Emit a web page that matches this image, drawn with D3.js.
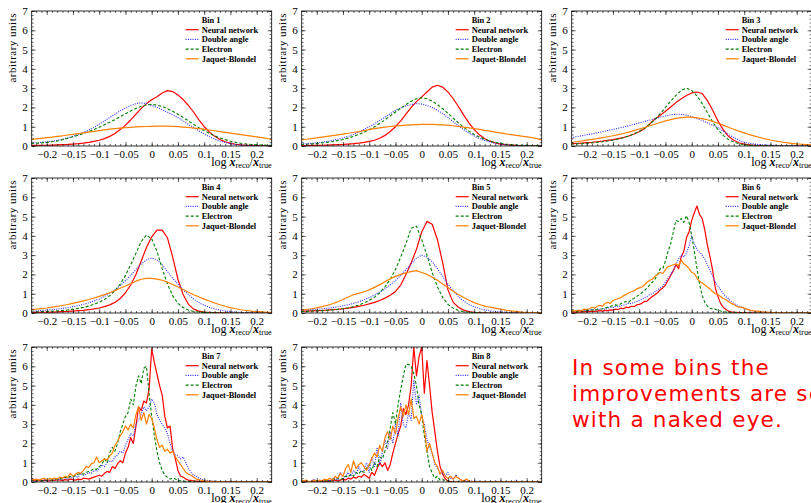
<!DOCTYPE html>
<html>
<head>
<meta charset="utf-8">
<script src="https://cdn.jsdelivr.net/npm/d3@7"></script>
<style>
  body { margin: 0; background: #fff; }
  svg { display: block; }
</style>
</head>
<body>
<div id="graphic"></div>
<script>
// bin centres of the histograms (coarse for bins 1-5, fine for the noisy bins 6-8)
var xCoarse = [-0.23,-0.22,-0.21,-0.20,-0.19,-0.18,-0.17,-0.16,-0.15,-0.14,-0.13,-0.12,-0.11,-0.10,-0.09,-0.08,-0.07,-0.06,-0.05,-0.04,-0.03,-0.02,-0.01,
  0,0.01,0.02,0.03,0.04,0.05,0.06,0.07,0.08,0.09,0.10,0.11,0.12,0.13,0.14,0.15,0.16,0.17,0.18,0.19,0.20,0.21,0.22,0.23];
var xFine = [-0.230,-0.225,-0.220,-0.215,-0.210,-0.205,-0.200,-0.195,-0.190,-0.185,
  -0.180,-0.175,-0.170,-0.165,-0.160,-0.155,-0.150,-0.145,-0.140,-0.135,
  -0.130,-0.125,-0.120,-0.115,-0.110,-0.105,-0.100,-0.095,-0.090,-0.085,
  -0.080,-0.075,-0.070,-0.065,-0.060,-0.055,-0.050,-0.045,-0.040,-0.035,
  -0.030,-0.025,-0.020,-0.015,-0.010,-0.005,0,0.005,0.010,0.015,
  0.020,0.025,0.030,0.035,0.040,0.045,0.050,0.055,0.060,0.065,
  0.070,0.075,0.080,0.085,0.090,0.095,0.100,0.105,0.110,0.115,
  0.120,0.125,0.130,0.135,0.140,0.145,0.150,0.155,0.160,0.165,
  0.170,0.175,0.180,0.185,0.190,0.195,0.200,0.205,0.210,0.215,
  0.220,0.225,0.230];

var binNames = ["Bin 1", "Bin 2", "Bin 3", "Bin 4", "Bin 5", "Bin 6", "Bin 7", "Bin 8"];
var seriesNames = ["Neural network", "Double angle", "Electron", "Jaquet-Blondel"];

var xTickValues = [-0.2, -0.15, -0.1, -0.05, 0, 0.05, 0.1, 0.15, 0.2];
var xTickLabels = ["\u22120.2", "\u22120.15", "\u22120.1", "\u22120.05", "0", "0.05", "0.1", "0.15", "0.2"];
var yTickValues = [0, 1, 2, 3, 4, 5, 6, 7];
var yTickLabels = ["0", "1", "2", "3", "4", "5", "6", "7"];

// Bin 1
var nn1 = [0.03,0.03,0.04,0.04,0.05,0.06,0.07,0.08,0.1,0.12,0.15,0.19,0.24,0.3,0.38,0.5,0.65,0.85,1.08,1.35,1.65,1.95,2.2,
  2.4,2.55,2.75,2.87,2.82,2.65,2.4,2.1,1.75,1.35,1.0,0.72,0.5,0.34,0.22,0.14,0.09,0.06,0.04,0.03,0.02,0.02,0.01,0.01];
var da1 = [0.15,0.17,0.19,0.22,0.25,0.29,0.35,0.42,0.5,0.6,0.7,0.82,0.97,1.13,1.3,1.48,1.65,1.82,1.97,2.1,2.2,2.24,2.2,
  2.1,2.0,1.88,1.75,1.62,1.48,1.3,1.12,0.95,0.78,0.62,0.48,0.36,0.26,0.18,0.12,0.08,0.05,0.03,0.02,0.01,0.01,0.01,0.0];
var el1 = [0.12,0.14,0.16,0.19,0.22,0.26,0.32,0.4,0.48,0.56,0.65,0.75,0.86,0.97,1.1,1.23,1.37,1.52,1.67,1.82,1.95,2.06,2.13,
  2.16,2.12,2.05,1.93,1.8,1.65,1.48,1.3,1.12,0.95,0.8,0.66,0.53,0.42,0.33,0.25,0.19,0.14,0.1,0.08,0.06,0.05,0.04,0.03];
var jb1 = [0.34,0.37,0.4,0.43,0.46,0.5,0.53,0.57,0.6,0.64,0.68,0.72,0.76,0.8,0.84,0.87,0.9,0.93,0.95,0.97,0.99,1.0,1.01,
  1.02,1.03,1.03,1.03,1.02,1.0,0.98,0.96,0.93,0.9,0.87,0.83,0.79,0.75,0.71,0.67,0.63,0.59,0.55,0.51,0.47,0.43,0.39,0.33];

// Bin 2
var nn2 = [0.02,0.02,0.03,0.03,0.04,0.05,0.06,0.07,0.08,0.1,0.12,0.15,0.19,0.24,0.3,0.4,0.55,0.75,1.0,1.3,1.65,2.0,2.3,
  2.55,2.8,3.05,3.15,3.05,2.8,2.45,2.05,1.6,1.2,0.85,0.58,0.38,0.25,0.16,0.1,0.07,0.05,0.03,0.02,0.02,0.01,0.01,0.01];
var da2 = [0.1,0.12,0.14,0.17,0.2,0.24,0.29,0.35,0.42,0.5,0.6,0.72,0.86,1.0,1.15,1.32,1.5,1.68,1.85,1.98,2.08,2.15,2.2,
  2.17,2.1,2.0,1.85,1.68,1.48,1.26,1.05,0.85,0.67,0.52,0.39,0.29,0.21,0.15,0.1,0.07,0.05,0.03,0.02,0.02,0.01,0.01,0.01];
var el2 = [0.08,0.09,0.11,0.13,0.16,0.19,0.23,0.28,0.34,0.41,0.5,0.6,0.72,0.85,1.0,1.17,1.36,1.56,1.76,1.96,2.15,2.32,2.45,
  2.5,2.45,2.33,2.15,1.93,1.7,1.45,1.2,0.97,0.77,0.6,0.46,0.35,0.26,0.19,0.14,0.1,0.07,0.05,0.04,0.03,0.02,0.02,0.01];
var jb2 = [0.32,0.35,0.38,0.42,0.46,0.5,0.54,0.58,0.62,0.66,0.7,0.75,0.8,0.85,0.9,0.94,0.98,1.01,1.04,1.06,1.08,1.1,1.11,
  1.12,1.12,1.12,1.11,1.1,1.08,1.05,1.02,0.98,0.94,0.9,0.86,0.81,0.77,0.72,0.68,0.63,0.59,0.55,0.51,0.47,0.43,0.38,0.3];

// Bin 3
var nn3 = [0.12,0.13,0.15,0.17,0.19,0.22,0.25,0.29,0.33,0.38,0.44,0.52,0.62,0.74,0.9,1.15,1.4,1.6,1.8,2.02,2.25,2.45,2.62,
  2.75,2.8,2.72,2.35,1.85,1.3,0.85,0.5,0.3,0.17,0.1,0.06,0.04,0.02,0.01,0.01,0,0,0,0,0,0,0,0];
var da3 = [0.42,0.48,0.53,0.58,0.63,0.68,0.74,0.8,0.86,0.92,0.98,1.05,1.12,1.2,1.27,1.34,1.42,1.5,1.56,1.62,1.65,1.64,1.6,
  1.52,1.42,1.32,1.2,1.08,0.95,0.78,0.6,0.44,0.3,0.2,0.14,0.1,0.07,0.05,0.04,0.03,0.02,0.02,0.01,0.01,0.01,0.01,0.01];
var el3 = [0.1,0.11,0.12,0.14,0.16,0.19,0.22,0.26,0.3,0.36,0.43,0.52,0.63,0.76,0.92,1.12,1.38,1.68,2.0,2.32,2.62,2.88,3.0,
  2.88,2.6,2.2,1.72,1.25,0.85,0.55,0.34,0.2,0.12,0.07,0.04,0.03,0.02,0.01,0.01,0,0,0,0,0,0,0,0];
var jb3 = [0.18,0.22,0.26,0.3,0.34,0.38,0.43,0.48,0.53,0.59,0.65,0.72,0.8,0.88,0.96,1.05,1.13,1.22,1.3,1.37,1.43,1.47,1.5,
  1.5,1.46,1.42,1.36,1.28,1.18,1.08,0.97,0.87,0.77,0.68,0.59,0.51,0.44,0.37,0.31,0.26,0.21,0.17,0.14,0.11,0.09,0.07,0.05];

// Bin 4
var nn4 = [0.03,0.03,0.04,0.04,0.05,0.06,0.07,0.08,0.1,0.12,0.14,0.17,0.21,0.26,0.33,0.42,0.55,0.75,1.05,1.45,2.0,2.7,3.4,
  3.95,4.3,4.3,3.9,2.9,1.75,0.95,0.45,0.2,0.1,0.05,0.03,0.02,0.01,0.01,0,0,0,0,0,0,0,0,0];
var da4 = [0.1,0.11,0.13,0.15,0.17,0.2,0.24,0.28,0.33,0.38,0.45,0.53,0.62,0.73,0.86,1.02,1.2,1.42,1.68,1.95,2.25,2.55,2.75,
  2.85,2.75,2.5,2.15,1.8,1.5,1.2,0.95,0.72,0.54,0.4,0.29,0.21,0.15,0.1,0.07,0.05,0.03,0.02,0.01,0.01,0.01,0,0];
var el4 = [0.05,0.06,0.07,0.08,0.09,0.11,0.13,0.16,0.2,0.24,0.29,0.36,0.45,0.56,0.7,0.9,1.15,1.5,1.95,2.5,3.1,3.7,4.05,
  3.85,3.2,2.3,1.5,0.9,0.5,0.28,0.15,0.08,0.05,0.03,0.02,0.01,0,0,0,0,0,0,0,0,0,0,0];
var jb4 = [0.18,0.2,0.23,0.26,0.3,0.34,0.39,0.44,0.5,0.56,0.63,0.7,0.78,0.86,0.95,1.05,1.16,1.28,1.4,1.52,1.65,1.75,1.8,
  1.8,1.76,1.7,1.6,1.48,1.35,1.22,1.08,0.95,0.83,0.72,0.62,0.52,0.43,0.35,0.28,0.22,0.17,0.13,0.1,0.08,0.06,0.04,0.03];

// Bin 5
var nn5 = [0.1,0.1,0.11,0.12,0.13,0.15,0.17,0.19,0.22,0.25,0.29,0.34,0.4,0.47,0.55,0.65,0.77,0.92,1.12,1.45,2.0,2.6,3.3,
  4.2,4.75,4.6,3.8,2.6,1.2,0.55,0.3,0.15,0.07,0.04,0.02,0.01,0,0,0,0,0,0,0,0,0,0,0];
var da5 = [0.15,0.16,0.18,0.2,0.22,0.25,0.28,0.32,0.37,0.43,0.5,0.58,0.68,0.8,0.93,1.08,1.26,1.45,1.68,1.95,2.25,2.55,2.85,
  3.0,2.9,2.65,2.3,1.9,1.5,1.15,0.85,0.62,0.45,0.32,0.23,0.16,0.11,0.08,0.06,0.04,0.03,0.02,0.01,0.01,0.01,0,0];
var el5 = [0.08,0.09,0.1,0.11,0.12,0.14,0.16,0.19,0.22,0.27,0.33,0.41,0.52,0.65,0.82,1.05,1.35,1.75,2.25,2.9,3.6,4.4,4.5,
  3.8,3.0,2.1,1.35,0.8,0.45,0.25,0.13,0.07,0.04,0.02,0.01,0,0,0,0,0,0,0,0,0,0,0,0];
var jb5 = [0.15,0.18,0.22,0.27,0.33,0.4,0.48,0.58,0.7,0.83,0.95,1.02,1.1,1.2,1.33,1.47,1.62,1.78,1.9,2.0,2.08,2.15,2.2,
  2.1,2.0,1.85,1.7,1.5,1.32,1.13,0.96,0.8,0.66,0.54,0.44,0.36,0.3,0.25,0.2,0.15,0.11,0.08,0.05,0.03,0.02,0.01,0.01];

// Bin 6
var nn6 = [0.05,0.04,0.06,0.05,0.07,0.06,0.08,0.07,0.1,0.08,
  0.1,0.12,0.1,0.14,0.12,0.16,0.15,0.2,0.18,0.25,
  0.22,0.3,0.28,0.35,0.33,0.42,0.45,0.5,0.6,0.62,
  0.75,0.85,0.95,1.05,1.2,1.3,1.45,1.7,1.95,2.2,
  2.5,2.3,2.9,3.2,3.9,4.2,4.8,5.2,5.55,5.1,
  4.9,4.3,3.5,2.9,2.2,1.3,0.85,0.5,0.3,0.18,
  0.1,0.06,0.04,0.03,0.02,0.02,0.01,0.01,0.01,0.01,
  0,0,0,0,0,0,0,0,0,0,
  0,0,0,0,0,0,0,0,0,0,
  0,0,0];
var da6 = [0.05,0.1,0.08,0.15,0.1,0.12,0.1,0.15,0.2,0.15,
  0.2,0.18,0.22,0.2,0.25,0.3,0.28,0.35,0.32,0.38,
  0.4,0.45,0.5,0.48,0.55,0.6,0.65,0.7,0.8,0.85,
  0.95,1.0,1.1,1.2,1.3,1.4,1.6,1.8,2.0,2.2,
  2.5,2.8,3.0,2.9,3.1,3.5,4.0,3.6,3.3,3.15,
  3.0,2.8,2.5,2.2,1.9,1.6,1.4,1.2,1.0,0.85,
  0.75,0.6,0.5,0.42,0.35,0.3,0.25,0.2,0.15,0.12,
  0.1,0.08,0.06,0.05,0.04,0.03,0.02,0.01,0.01,0.01,
  0.01,0.01,0,0,0,0,0,0,0,0,
  0,0,0];
var el6 = [0.08,0.1,0.07,0.1,0.12,0.1,0.14,0.12,0.16,0.15,
  0.18,0.2,0.22,0.25,0.3,0.35,0.38,0.42,0.4,0.48,
  0.55,0.6,0.55,0.7,0.75,0.85,0.95,1.05,1.15,1.3,
  1.45,1.6,1.75,2.0,2.3,2.3,2.7,3.2,3.6,4.2,
  4.8,4.75,4.9,4.7,5.05,4.7,4.0,3.2,2.3,1.5,
  0.9,0.55,0.35,0.25,0.2,0.2,0.15,0.1,0.08,0.05,
  0.04,0.03,0.02,0.02,0.01,0.01,0.01,0,0,0,
  0,0,0,0,0,0,0,0,0,0,
  0,0,0,0,0,0,0,0,0,0,
  0,0,0];
var jb6 = [0.08,0.12,0.1,0.15,0.12,0.2,0.18,0.22,0.3,0.25,
  0.35,0.4,0.35,0.5,0.55,0.5,0.65,0.7,0.75,0.8,
  0.9,0.95,1.05,1.1,1.15,1.25,1.3,1.35,1.45,1.6,
  1.7,1.75,1.9,2.0,2.1,2.05,2.25,2.4,2.45,2.5,
  2.55,2.45,2.75,2.55,2.45,2.3,2.1,2.05,1.8,1.65,
  1.55,1.45,1.35,1.25,1.1,1.0,0.95,0.85,0.75,0.7,
  0.6,0.5,0.45,0.35,0.3,0.3,0.25,0.2,0.15,0.12,
  0.1,0.1,0.08,0.06,0.05,0.04,0.03,0.02,0.01,0.01,
  0.01,0.01,0.01,0,0,0,0,0,0,0,
  0,0,0];

// Bin 7
var nn7 = [0.05,0.1,0.05,0.08,0.05,0.1,0.08,0.05,0.1,0.08,
  0.12,0.1,0.08,0.12,0.1,0.15,0.12,0.1,0.15,0.12,
  0.2,0.18,0.15,0.2,0.25,0.3,0.35,0.3,0.45,0.55,
  0.5,0.8,0.7,0.95,1.1,1.0,1.5,1.8,2.3,2.0,
  2.9,3.9,3.7,4.2,4.1,4.8,6.9,6.2,5.6,5.0,
  4.5,3.4,2.8,2.9,1.7,1.2,0.6,0.3,0.25,0.15,
  0.1,0.08,0.05,0.05,0.03,0.02,0.02,0.01,0.01,0.01,
  0.01,0,0,0,0,0,0,0,0,0,
  0,0,0,0,0,0,0,0,0,0,
  0,0,0];
var da7 = [0.05,0.03,0.05,0.08,0.05,0.1,0.08,0.1,0.12,0.1,
  0.15,0.12,0.15,0.2,0.15,0.25,0.2,0.3,0.25,0.45,
  0.35,0.4,0.5,0.45,0.6,0.55,0.7,0.9,0.8,1.0,
  1.1,1.05,1.3,1.4,1.6,1.5,1.9,2.2,2.5,2.4,
  3.0,3.2,3.5,3.9,3.7,3.9,4.3,4.1,3.5,3.2,
  3.0,2.8,2.5,2.0,1.6,1.4,1.35,1.2,1.3,1.0,
  0.7,0.5,0.35,0.3,0.2,0.15,0.1,0.08,0.06,0.05,
  0.04,0.03,0.02,0.02,0.01,0.01,0.01,0,0,0,
  0,0,0,0,0,0,0,0,0,0,
  0,0,0];
var el7 = [0.05,0.08,0.05,0.1,0.08,0.05,0.1,0.12,0.1,0.15,
  0.12,0.2,0.15,0.25,0.2,0.3,0.25,0.35,0.4,0.45,
  0.4,0.5,0.55,0.6,0.7,0.65,0.8,0.9,1.2,1.0,
  1.5,1.8,1.6,2.0,2.6,3.0,3.4,3.6,4.3,4.0,
  5.0,5.5,5.1,5.9,6.0,4.6,3.4,2.4,1.6,1.0,
  0.6,0.35,0.25,0.15,0.2,0.15,0.1,0.05,0.05,0.03,
  0.02,0.02,0.01,0.01,0.01,0,0,0,0,0,
  0,0,0,0,0,0,0,0,0,0,
  0,0,0,0,0,0,0,0,0,0,
  0,0,0];
var jb7 = [0.25,0.1,0.15,0.1,0.15,0.2,0.12,0.18,0.15,0.2,
  0.15,0.25,0.2,0.3,0.25,0.45,0.3,0.4,0.5,0.45,
  0.6,0.8,0.75,0.95,1.0,1.3,1.0,1.1,1.2,1.15,
  1.35,1.5,1.9,2.1,2.4,2.6,2.9,2.7,3.0,2.8,
  3.5,3.9,3.2,3.6,3.0,3.5,3.3,2.8,2.2,1.8,
  1.9,1.6,1.7,1.5,1.6,1.3,1.1,0.9,0.7,0.5,
  0.4,0.35,0.25,0.15,0.12,0.08,0.06,0.05,0.04,0.03,
  0.02,0.02,0.01,0.01,0.01,0,0,0,0,0,
  0,0,0,0,0,0,0,0,0,0,
  0,0,0];

// Bin 8
var nn8 = [0.02,0,0.03,0,0.02,0,0.05,0,0.03,0.05,
  0,0.08,0.05,0.1,0.05,0.1,0.15,0.1,0.2,0.15,
  0.25,0.2,0.3,0.25,0.4,0.3,0.2,0.5,0.35,0.7,
  1.0,0.8,1.0,0.6,0.9,1.5,2.0,2.5,2.9,3.8,
  3.5,4.0,5.0,7.0,5.5,6.5,7.0,4.6,6.3,5.0,
  3.6,2.6,1.6,0.8,0.4,0.15,0.05,0.02,0,0,
  0,0,0,0,0,0,0,0,0,0,
  0,0,0,0,0,0,0,0,0,0,
  0,0,0,0,0,0,0,0,0,0,
  0,0,0];
var da8 = [0.05,0,0.1,0,0.05,0.15,0,0.05,0.1,0,
  0.1,0.05,0.15,0.2,0.1,0.5,0.2,0.3,0.5,0.3,
  0.6,0.4,0.8,0.5,0.6,1.0,0.5,1.3,0.8,1.8,
  0.9,1.5,2.2,1.7,2.6,2.0,3.0,2.4,4.1,3.0,
  2.8,3.6,3.2,5.3,4.0,4.5,3.4,3.0,2.2,1.8,
  1.5,0.9,0.7,0.5,0.45,0.3,0.5,0.2,0.15,0.4,
  0.2,0.1,0.05,0.1,0,0.05,0,0.05,0,0,
  0,0,0,0,0,0,0,0,0,0,
  0,0,0.1,0,0,0,0,0,0,0,
  0,0,0];
var el8 = [0.1,0.05,0,0.05,0,0,0.05,0.1,0,0.05,
  0.1,0,0.15,0.1,0.2,0.1,0.2,0.3,0.25,0.4,
  0.3,0.5,0.4,0.6,0.5,0.7,0.9,0.6,1.0,0.8,
  1.3,1.2,1.6,2.1,2.8,3.6,3.0,4.0,4.8,5.5,
  6.1,6.1,6.0,5.6,5.0,4.0,3.5,2.4,1.6,0.8,
  0.45,0.2,0.3,0.1,0.15,0.05,0.05,0.02,0,0,
  0,0,0,0,0,0,0,0,0,0,
  0,0,0,0,0,0,0,0,0,0,
  0,0,0,0,0,0,0,0,0,0,
  0,0,0];
var jb8 = [0.1,0.05,0.1,0,0.05,0.1,0,0.1,0.05,0.15,
  0.1,0.2,0.1,0.3,0.2,0.45,0.3,0.7,0.9,0.5,
  1.1,0.7,0.9,1.0,0.8,0.6,0.9,1.2,1.5,1.3,
  1.9,1.6,2.3,2.6,2.2,2.9,2.5,3.3,3.9,3.4,
  4.0,3.5,4.3,3.3,3.4,3.0,3.5,2.8,1.6,2.0,
  1.5,1.0,0.8,0.4,0.6,0.3,0.2,0.3,0.15,0.3,
  0.2,0.1,0.05,0.15,0.05,0.02,0.02,0,0,0,
  0,0,0,0,0,0,0,0,0,0,
  0,0,0,0,0,0,0,0,0,0,
  0,0,0];

var noteLines = ["In some bins the", "improvements are seen", "with a naked eye."];

// ---------------------------------------------------------------

var svgWidth = 811;
var svgHeight = 503;
var panelWidth = 240;
var panelHeight = 135;
var colLeft = [31.7, 301.7, 571.7];
var rowTop = [11, 178, 347];

var seriesColors = ["#ff0000", "#2a2aff", "#007f00", "#ff8000"];
var seriesDash = [null, "1,1.3", "3,2", null];
var seriesWidth = [1.2, 1.1, 1.1, 1.2];

var bins = [
    { name: binNames[0], xs: xCoarse, series: [nn1, da1, el1, jb1] },
    { name: binNames[1], xs: xCoarse, series: [nn2, da2, el2, jb2] },
    { name: binNames[2], xs: xCoarse, series: [nn3, da3, el3, jb3] },
    { name: binNames[3], xs: xCoarse, series: [nn4, da4, el4, jb4] },
    { name: binNames[4], xs: xCoarse, series: [nn5, da5, el5, jb5] },
    { name: binNames[5], xs: xFine, series: [nn6, da6, el6, jb6] },
    { name: binNames[6], xs: xFine, series: [nn7, da7, el7, jb7] },
    { name: binNames[7], xs: xFine, series: [nn8, da8, el8, jb8] }
];

var svg = d3.select("#graphic")
    .append("svg")
    .attr("width", svgWidth)
    .attr("height", svgHeight)
    .style("background", "#fff");

svg.append("defs")
    .append("clipPath")
    .attr("id", "plotclip")
    .append("rect")
    .attr("x", 0)
    .attr("y", 0)
    .attr("width", panelWidth)
    .attr("height", panelHeight);

var xScale = d3.scaleLinear().domain([-0.2286, 0.2286]).range([0, panelWidth]);
var yScale = d3.scaleLinear().domain([0, 7]).range([panelHeight, 0]);

var xMinor = d3.range(-0.22, 0.2201, 0.01);
var yMinor = d3.range(0, 7.001, 0.2);

var serif = "'Liberation Serif', 'Times New Roman', serif";

bins.forEach(function(bin, b) {
    var col = b % 3;
    var row = Math.floor(b / 3);
    var panel = svg.append("g")
        .attr("transform", "translate(" + colLeft[col] + "," + rowTop[row] + ")");

    // curves
    var lineGen = d3.line()
        .x(function(d, i) { return xScale(bin.xs[i]); })
        .y(function(d) { return yScale(d); });

    var plot = panel.append("g").attr("clip-path", "url(#plotclip)");
    bin.series.forEach(function(values, s) {
        plot.append("path")
            .datum(values)
            .attr("d", lineGen)
            .attr("fill", "none")
            .attr("stroke", seriesColors[s])
            .attr("stroke-width", seriesWidth[s])
            .attr("stroke-dasharray", seriesDash[s])
            .attr("stroke-linejoin", "round");
    });

    // ticks on all four sides, pointing inwards
    var axes = [
        panel.append("g").attr("transform", "translate(0," + panelHeight + ")")
            .call(d3.axisBottom(xScale).tickValues(xTickValues).tickSize(-4).tickPadding(4.5)
                .tickFormat(function(d, i) { return xTickLabels[i]; })),
        panel.append("g").attr("transform", "translate(0," + panelHeight + ")")
            .call(d3.axisBottom(xScale).tickValues(xMinor).tickSize(-2).tickFormat("")),
        panel.append("g")
            .call(d3.axisTop(xScale).tickValues(xTickValues).tickSize(-4).tickFormat("")),
        panel.append("g")
            .call(d3.axisTop(xScale).tickValues(xMinor).tickSize(-2).tickFormat("")),
        panel.append("g")
            .call(d3.axisLeft(yScale).tickValues(yTickValues).tickSize(-4).tickPadding(4)
                .tickFormat(function(d, i) { return yTickLabels[i]; })),
        panel.append("g")
            .call(d3.axisLeft(yScale).tickValues(yMinor).tickSize(-2).tickFormat("")),
        panel.append("g").attr("transform", "translate(" + panelWidth + ",0)")
            .call(d3.axisRight(yScale).tickValues(yTickValues).tickSize(-4).tickFormat("")),
        panel.append("g").attr("transform", "translate(" + panelWidth + ",0)")
            .call(d3.axisRight(yScale).tickValues(yMinor).tickSize(-2).tickFormat(""))
    ];
    axes.forEach(function(a) {
        a.select(".domain").remove();
        a.selectAll(".tick line").attr("stroke", "#000").attr("stroke-width", 0.6);
        a.selectAll(".tick text")
            .attr("fill", "#000")
            .style("font-family", serif)
            .style("font-size", "11px");
    });

    panel.append("rect")
        .attr("width", panelWidth)
        .attr("height", panelHeight)
        .attr("fill", "none")
        .attr("stroke", "#000")
        .attr("stroke-width", 0.8);

    // axis titles
    panel.append("text")
        .attr("transform", "translate(-15.4,2) rotate(-90)")
        .attr("text-anchor", "end")
        .style("font-family", serif)
        .style("font-size", "11px")
        .style("letter-spacing", "0.5px")
        .text("arbitrary units");

    var xTitle = panel.append("text")
        .attr("x", panelWidth)
        .attr("y", panelHeight + 19.5)
        .attr("text-anchor", "end")
        .style("font-family", serif)
        .style("font-size", "12px");
    xTitle.append("tspan").text("log ");
    xTitle.append("tspan").style("font-style", "italic").style("font-weight", "bold").text("x");
    xTitle.append("tspan").attr("baseline-shift", "-25%").style("font-size", "8.2px").text("reco");
    xTitle.append("tspan").text("/");
    xTitle.append("tspan").style("font-style", "italic").style("font-weight", "bold").text("x");
    xTitle.append("tspan").attr("baseline-shift", "-25%").style("font-size", "8.2px").text("true");

    // legend
    var legend = panel.append("g").attr("transform", "translate(154,0)");
    legend.append("text")
        .attr("x", 16)
        .attr("y", 12)
        .style("font-family", serif)
        .style("font-size", "8.4px")
        .style("font-weight", "bold")
        .text(bin.name);

    var items = legend.selectAll("g.item")
        .data(seriesNames)
        .enter()
        .append("g")
        .attr("class", "item")
        .attr("transform", function(d, i) { return "translate(0," + (21.5 + i * 9.7) + ")"; });
    items.append("line")
        .attr("x1", 0)
        .attr("x2", 13)
        .attr("y1", -2.8)
        .attr("y2", -2.8)
        .attr("stroke", function(d, i) { return seriesColors[i]; })
        .attr("stroke-width", function(d, i) { return seriesWidth[i]; })
        .attr("stroke-dasharray", function(d, i) { return seriesDash[i]; });
    items.append("text")
        .attr("x", 16)
        .attr("y", 0)
        .style("font-family", serif)
        .style("font-size", "8.4px")
        .style("font-weight", "bold")
        .text(function(d) { return d; });
});

// comment in the empty ninth cell
svg.append("g")
    .selectAll("text")
    .data(noteLines)
    .enter()
    .append("text")
    .attr("x", 572)
    .attr("y", function(d, i) { return 374.5 + i * 26; })
    .attr("fill", "#ff0000")
    .style("font-family", "'DejaVu Sans', sans-serif")
    .style("font-size", "21.5px")
    .style("letter-spacing", "1.2px")
    .text(function(d) { return d; });
</script>
</body>
</html>
